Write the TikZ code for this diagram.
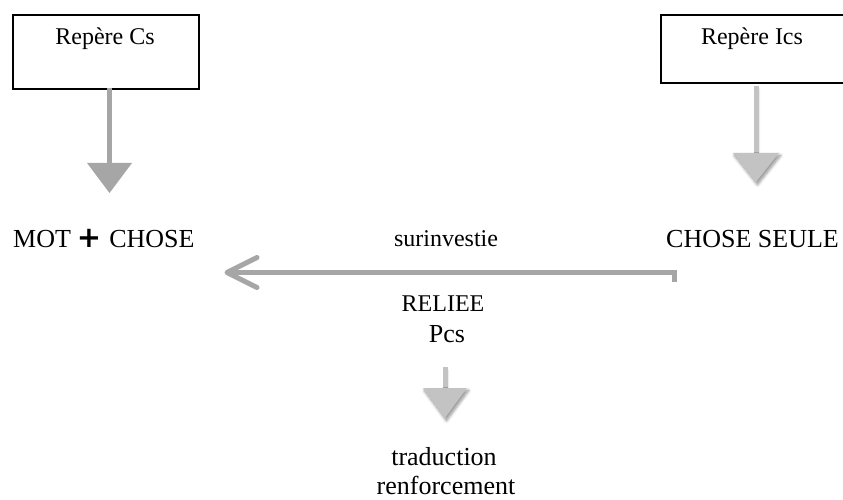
\documentclass[tikz,border=0pt]{standalone}
\usepackage{fontspec}
\setmainfont{Liberation Serif}
\newfontfamily\plusfont{DejaVu Sans}
\usetikzlibrary{shadows.blur}

\definecolor{arrowdark}{HTML}{A6A6A6}
\definecolor{arrowlight}{HTML}{C3C3C3}

\tikzset{
  framebox/.style={draw=black, line width=2.2bp, inner sep=0pt, anchor=north west},
  bigtext/.style={font=\fontsize{26bp}{30bp}\selectfont, inner sep=0pt, anchor=base},
  smalltext/.style={font=\fontsize{24bp}{28bp}\selectfont, inner sep=0pt, anchor=base},
  shaft/.style={line width=5bp},
  softshadow/.style={blur shadow={shadow xshift=1.5bp, shadow yshift=-2.5bp,
      shadow opacity=45, shadow blur radius=3bp, shadow blur steps=8}},
}

\begin{document}
\begin{tikzpicture}[x=1bp, y=-1bp]
  \useasboundingbox (0,0) rectangle (843,500);
  \clip (0,0) rectangle (843,500);

  % frames at the top
  \node[framebox, minimum width=186bp, minimum height=74bp] (boxcs) at (12,14) {};
  \node[framebox, minimum width=200bp, minimum height=68bp] (boxics) at (660,14) {};
  \node[smalltext] (cs) at (105,45) {Repère Cs};
  \node[smalltext] (ics) at (752,45) {Repère Ics};

  % main line of text
  \node[bigtext, anchor=base west] (motchose) at (13,248)
    {MOT\kern6bp{\plusfont\fontsize{29bp}{29bp}\selectfont\bfseries +}\kern8bp CHOSE};
  \node[bigtext, anchor=base west] (seule) at (666,248) {CHOSE SEULE};
  \node[smalltext] (surinv) at (446,247) {surinvestie};
  \node[smalltext] (reliee) at (443,312) {RELIEE};
  \node[bigtext] (pcs) at (447,342) {Pcs};
  \node[bigtext] (trad) at (444,465) {traduction};
  \node[bigtext] (renf) at (446,494) {renforcement};

  % block arrow from Repère Cs
  \coordinate (h1) at (109.5,163);
  \draw[shaft, arrowdark] (boxcs.south -| h1) ++(0,-2) -- (h1);
  \fill[arrowdark] (h1) ++(-22.5,0) -- ++(45,0) -- ++(-22.5,30) -- cycle;

  % block arrow from Repère Ics
  \coordinate (h2) at (756,153);
  \draw[shaft, arrowlight, softshadow] (boxics.south -| h2) ++(0,2) -- (h2);
  \fill[arrowlight, softshadow] (h2) ++(-23,0) -- ++(46,0) -- ++(-23,29) -- cycle;

  % block arrow below Pcs
  \coordinate (h3) at (445,388);
  \coordinate (t3) at (445,367);
  \draw[shaft, arrowlight, softshadow] (t3) -- (h3);
  \fill[arrowlight, softshadow] (h3) ++(-22,0) -- ++(44,0) -- ++(-22,30) -- cycle;

  % open arrow from CHOSE SEULE back to MOT + CHOSE
  \coordinate (hstart) at (674,282);
  \coordinate (hcorner) at (674,272.5);
  \coordinate (htip) at (227,272.5);
  \draw[shaft, arrowdark, line join=miter] (hstart) -- (hcorner) -- (htip);
  \draw[shaft, arrowdark, line cap=round, line join=round]
    (htip) ++(30,-15) -- (htip) -- ++(30,15);
\end{tikzpicture}
\end{document}
